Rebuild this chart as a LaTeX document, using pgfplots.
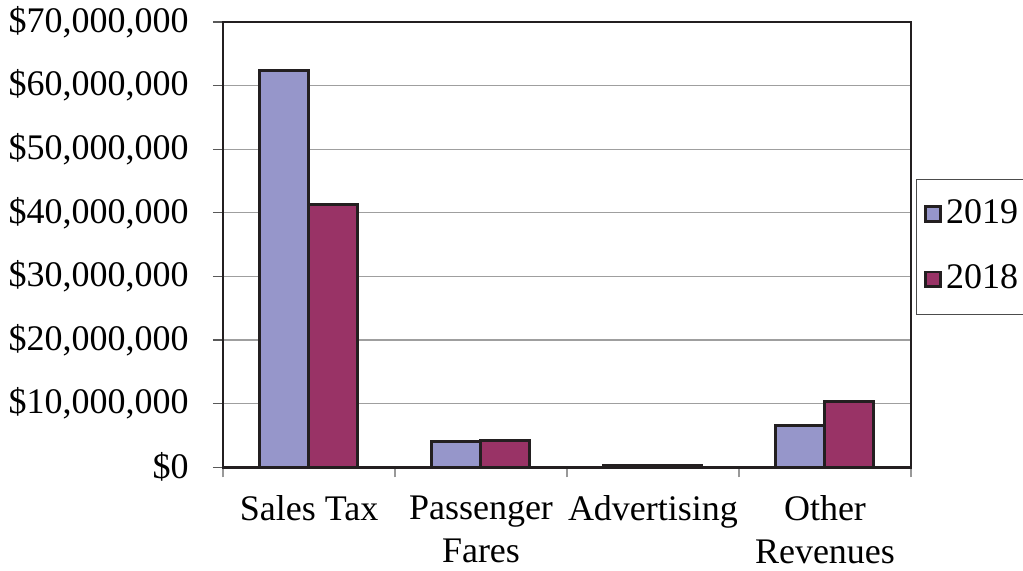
\documentclass[border=0pt]{standalone}
\usepackage{pgfplots}
\pgfplotsset{compat=1.18}
\usepackage{fontspec}
\setmainfont{Liberation Serif}
\definecolor{c19}{RGB}{150,150,202}
\definecolor{c18}{RGB}{153,51,102}
\definecolor{edge}{RGB}{35,31,32}
\begin{document}
\fontsize{18pt}{21pt}\selectfont
\begin{tikzpicture}
\useasboundingbox (-111.5pt,-51.85pt) rectangle (400pt,233.65pt);
\begin{axis}[
  at={(0pt,0pt)}, anchor=south west,
  scale only axis, width=344pt, height=222.65pt,
  ybar, bar width=24.5pt,
  xmin=-0.5, xmax=3.5, ymin=0, ymax=70000000,
  scaled y ticks=false,
  xtick pos=bottom, ytick pos=left,
  xtick={0,1,2,3},
  xticklabels={Sales Tax,{Passenger\\Fares},Advertising,{Other\\Revenues}},
  xticklabel style={align=center, font=\fontsize{18pt}{21.5pt}\selectfont, yshift=-3pt},
  major x tick style={draw=none},
  minor xtick={-0.5,0.5,1.5,2.5,3.5},
  minor x tick style={draw=gray!80, line width=0.6pt},
  minor tick length=5pt,
  ytick={0,10000000,20000000,30000000,40000000,50000000,60000000,70000000},
  yticklabels={\$0,{\$10,000,000},{\$20,000,000},{\$30,000,000},{\$40,000,000},{\$50,000,000},{\$60,000,000},{\$70,000,000}},
  yticklabel style={font=\fontsize{18pt}{20pt}\selectfont, xshift=-6pt},
  major tick length=5pt,
  tick align=outside,
  major y tick style={draw=gray!70!black, line width=0.6pt},
  ymajorgrids,
  major grid style={draw=gray!75, line width=0.6pt},
  axis line style={draw=edge, line width=1.4pt},
  legend style={at={(axis description cs:1.0073,0.6474)}, anchor=north west,
    draw=gray!60!black, line width=0.4pt, font=\fontsize{18pt}{20pt}\selectfont,
    row sep=14pt, inner xsep=4pt, inner ysep=8pt, legend cell align=left},
  legend image code/.code={\draw[#1, draw=edge, line width=1.4pt] (0pt,-3.7pt) rectangle (7.4pt,3.7pt);},
]
\addplot[fill=c19, draw=edge, line width=1.5pt, bar shift=-12.25pt] coordinates {(0,62300000) (1,4050000) (2,350000) (3,6570000)};
\addplot[fill=c18, draw=edge, line width=1.5pt, bar shift=12.25pt] coordinates {(0,41300000) (1,4250000) (2,300000) (3,10360000)};
\legend{2019,2018}
\end{axis}
\end{tikzpicture}
\end{document}
